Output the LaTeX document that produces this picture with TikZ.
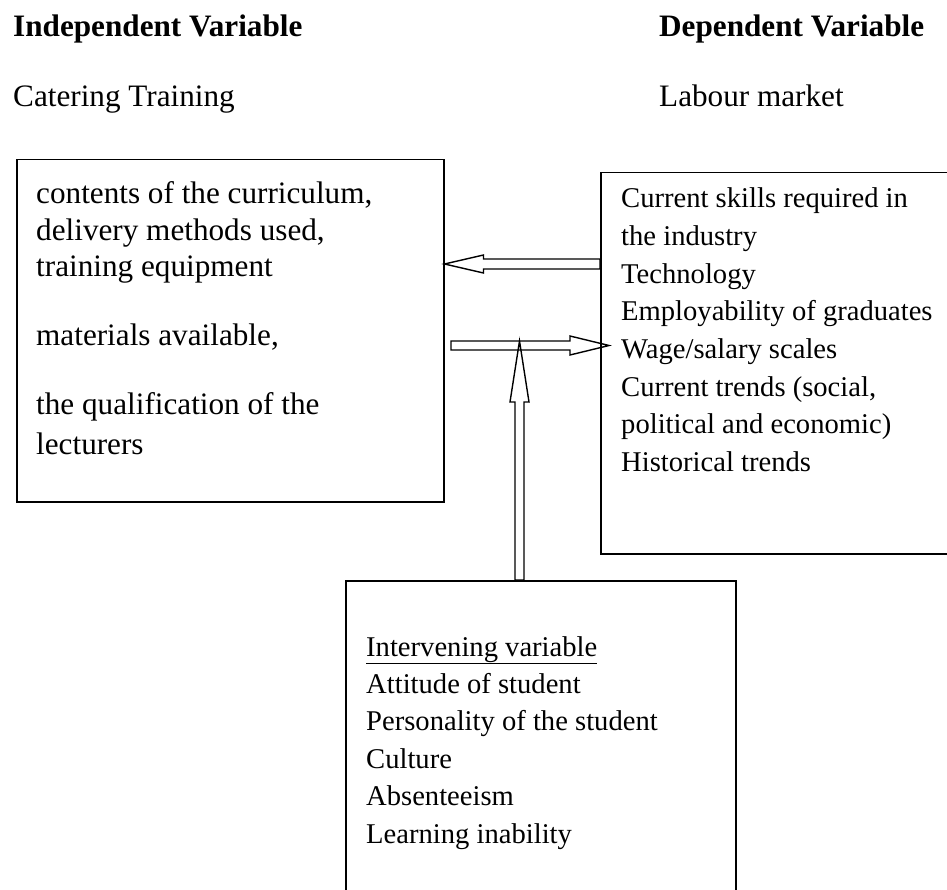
\documentclass[tikz,border=0pt]{standalone}
\usepackage{fontspec}
\setmainfont{Liberation Serif}
\usetikzlibrary{calc}
\begin{document}
\begin{tikzpicture}[x=1pt,y=-1pt,
  box/.style={draw, line width=1.5pt, inner sep=0pt, anchor=north west},
  blk/.style={draw, line width=1.4pt, line join=miter},
  big/.style={inner sep=0pt, anchor=base west, font=\fontsize{31.2}{36}\selectfont},
  sml/.style={inner sep=0pt, anchor=base west, font=\fontsize{28.6}{37}\selectfont}]
\useasboundingbox (0,0) rectangle (947,890);
\clip (0,0) rectangle (947,890);
% headings
\node[big] (h1) at (13,37) {\textbf{Independent Variable}};
\node[big] (h2) at (659,37) {\textbf{Dependent Variable}};
\node[big] (s1) at (13,107) {Catering Training};
\node[big] (s2) at (659,107) {Labour market};
% boxes
\node[box, minimum width=427pt, minimum height=342pt] (L) at (16,159) {};
\node[box, minimum width=370pt, minimum height=381pt] (R) at (600,172) {};
\node[box, minimum width=390pt, minimum height=340pt] (B) at (345,580) {};
% left box text
\node[big] (l1) at (36,204) {contents of the curriculum,};
\node[big] (l2) at (36,240.5) {delivery methods used,};
\node[big] (l3) at (36,277) {training equipment};
\node[big] (l4) at (36,345) {materials available,};
\node[big] (l5) at (36,414) {the qualification of the};
\node[big] (l6) at (36,454) {lecturers};
% right box text
\node[sml] (r1) at (621,208) {Current skills required in};
\node[sml] (r2) at (621,245.6) {the industry};
\node[sml] (r3) at (621,283.2) {Technology};
\node[sml] (r4) at (621,320.8) {Employability of graduates};
\node[sml] (r5) at (621,358.4) {Wage/salary scales};
\node[sml] (r6) at (621,396) {Current trends (social,};
\node[sml] (r7) at (621,433.6) {political and economic)};
\node[sml] (r8) at (621,471.2) {Historical trends};
% bottom box text
\node[sml] (b1) at (366,656) {\underline{Intervening variable}};
\node[sml] (b2) at (366,693.4) {Attitude of student};
\node[sml] (b3) at (366,730.8) {Personality of the student};
\node[sml] (b4) at (366,768.2) {Culture};
\node[sml] (b5) at (366,805.6) {Absenteeism};
\node[sml] (b6) at (366,843) {Learning inability};
% block arrows
\coordinate (lt) at (L.east |- 0,264);
\coordinate (ls) at (R.west |- 0,264);
\draw[blk] (lt) -- ($(lt)+(39,-9)$) -- ($(lt)+(39,-5)$) -- ($(ls)+(0,-5)$)
  -- ($(ls)+(0,5)$) -- ($(lt)+(39,5)$) -- ($(lt)+(39,9)$) -- cycle;
\coordinate (rs) at (451,345.5);
\coordinate (rt) at ($(R.west |- rs)+(9,0)$);
\draw[blk] ($(rs)+(0,-4.5)$) -- ($(rt)+(-39,-4.5)$) -- ($(rt)+(-39,-9.5)$) -- (rt)
  -- ($(rt)+(-39,9.5)$) -- ($(rt)+(-39,4.5)$) -- ($(rs)+(0,4.5)$) -- cycle;
\coordinate (vt) at (519.5,341);
\coordinate (vb) at (B.north -| vt);
\draw[blk] (vt) -- ($(vt)+(9.5,61)$) -- ($(vt)+(4.5,61)$) -- ($(vb)+(4.5,0)$)
  -- ($(vb)+(-4.5,0)$) -- ($(vt)+(-4.5,61)$) -- ($(vt)+(-9.5,61)$) -- cycle;
\end{tikzpicture}
\end{document}
